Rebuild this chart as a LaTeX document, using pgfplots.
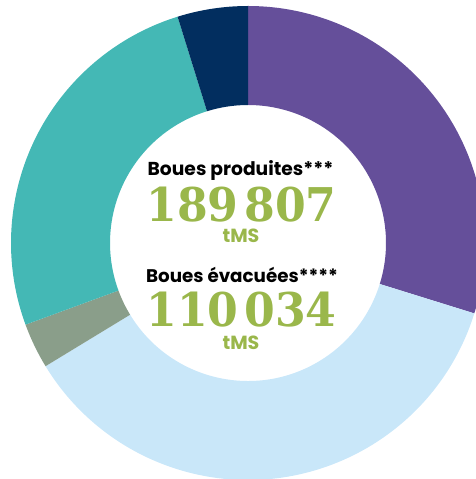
\documentclass[border=0pt]{standalone}
\usepackage{pgfplots}
\usepackage{pgfplotstable}
\pgfplotsset{compat=1.18}
\usepackage{fontspec}
\setmainfont{Poppins}
\newfontfamily\numfont{DejaVu Serif}
\definecolor{purp}{HTML}{654F9A}
\definecolor{lblue}{HTML}{C9E7F9}
\definecolor{sage}{HTML}{8A9E8A}
\definecolor{tealc}{HTML}{44B8B5}
\definecolor{navy}{HTML}{022E5F}
\definecolor{grn}{HTML}{9AB74B}
\pgfplotstableread{
value color
29.8 purp
36.5 lblue
3.1 sage
25.8 tealc
4.8 navy
}\slices
\newcommand\sector[3]{%
  \fill[#3] (axis cs:{237*cos(#1)},{237*sin(#1)}) arc[start angle=#1, end angle=#2, radius=237pt]
    -- (axis cs:{138*cos(#2)},{138*sin(#2)}) arc[start angle=#2, end angle=#1, radius=138pt] -- cycle;}
\newcommand\bignum[1]{\scalebox{0.95}[1]{\fontsize{46.5}{46.5}\selectfont\numfont\bfseries #1}}
\begin{document}
\begin{tikzpicture}
\pgfplotstablegetelem{0}{value}\of\slices \pgfmathsetmacro\aB{90-3.6*\pgfplotsretval}
\pgfplotstablegetelem{1}{value}\of\slices \pgfmathsetmacro\aC{\aB-3.6*\pgfplotsretval}
\pgfplotstablegetelem{2}{value}\of\slices \pgfmathsetmacro\aD{\aC-3.6*\pgfplotsretval}
\pgfplotstablegetelem{3}{value}\of\slices \pgfmathsetmacro\aE{\aD-3.6*\pgfplotsretval}
\pgfplotstablegetelem{4}{value}\of\slices \pgfmathsetmacro\aF{\aE-3.6*\pgfplotsretval}
\begin{axis}[x=1pt, y=1pt, xmin=-248, xmax=228, ymin=-236, ymax=243,
  hide axis, clip=true]
\sector{90}{\aB}{purp}
\sector{\aB}{\aC}{lblue}
\sector{\aC}{\aD}{sage}
\sector{\aD}{\aE}{tealc}
\sector{\aE}{\aF}{navy}
\node[anchor=base, inner sep=0pt, font=\fontsize{18.7}{18.7}\selectfont\bfseries] at (axis cs:-7.5,67) {Boues produites***};
\node[anchor=base, inner sep=0pt, text=grn] at (axis cs:-6.5,21) {\bignum{189\kern6pt807}};
\node[anchor=base, inner sep=0pt, text=grn, font=\fontsize{19}{19}\selectfont\bfseries] at (axis cs:-7,0) {tMS};
\node[anchor=base, inner sep=0pt, font=\fontsize{18.3}{18.3}\selectfont\bfseries] at (axis cs:-6,-40) {Boues évacuées****};
\node[anchor=base, inner sep=0pt, text=grn] at (axis cs:-6.5,-84) {\bignum{110\kern6pt034}};
\node[anchor=base, inner sep=0pt, text=grn, font=\fontsize{19}{19}\selectfont\bfseries] at (axis cs:-7,-107) {tMS};
\end{axis}
\useasboundingbox (current axis.south west) rectangle (current axis.north east);
\end{tikzpicture}
\end{document}
